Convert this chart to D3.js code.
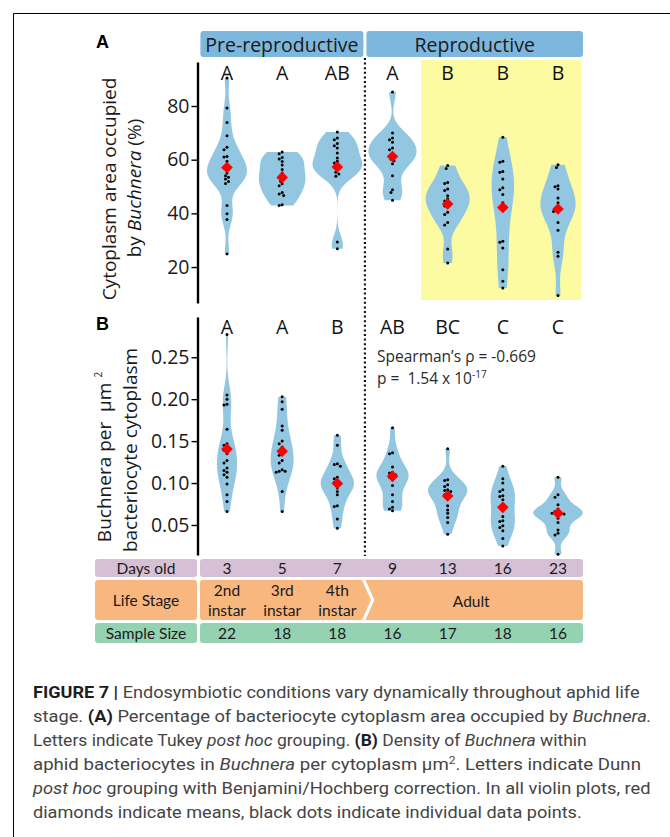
<!DOCTYPE html>
<html>
<head>
<meta charset="utf-8">
<script src="https://cdn.jsdelivr.net/npm/d3@7"></script>
<style>
	body { margin: 0; background: #fff; }
	svg { display: block; }
</style>
</head>
<body>
<script>
// ---- data ----
var days = ["3", "5", "7", "9", "13", "16", "23"];
var groupsA = ["A", "A", "AB", "A", "B", "B", "B"];
var groupsB = ["A", "A", "B", "AB", "BC", "C", "C"];
var sampleSize = ["22", "18", "18", "16", "17", "18", "16"];
var instars = [["2nd", "instar"], ["3rd", "instar"], ["4th", "instar"]];
var ticksA = [20, 40, 60, 80];
var ticksB = [0.05, 0.10, 0.15, 0.20, 0.25];

// (A) % cytoplasm occupied by Buchnera, one list per age
var areaPct = [
	[90.4, 79.3, 73.9, 68.9, 64.6, 63.7, 61.2, 61.0, 59.4, 57.3, 57.0, 56.3, 55.0, 54.0, 53.5, 52.8, 51.9, 51.1, 42.9, 39.9, 37.7, 24.9],
	[62.9, 62.2, 60.8, 60.3, 59.3, 58.0, 56.3, 55.0, 54.0, 53.0, 52.0, 51.0, 50.3, 47.8, 47.2, 46.7, 43.2, 42.9],
	[70.3, 68.1, 67.4, 66.0, 65.2, 64.4, 62.5, 60.6, 59.4, 58.8, 58.1, 57.3, 56.3, 55.3, 54.7, 53.8, 29.3, 26.8],
	[85.2, 69.9, 68.1, 67.4, 66.5, 64.4, 63.7, 62.5, 61.2, 60.2, 59.6, 58.5, 54.0, 48.8, 47.8, 44.9],
	[57.8, 56.7, 51.5, 51.1, 49.1, 48.5, 46.6, 45.4, 44.6, 43.6, 42.7, 40.4, 39.6, 36.6, 35.7, 26.7, 21.5],
	[68.4, 59.4, 59.0, 55.6, 55.3, 52.8, 49.5, 48.8, 47.0, 44.0, 42.6, 42.0, 29.6, 29.2, 27.1, 19.0, 14.7, 12.2],
	[58.1, 57.1, 50.3, 49.9, 49.1, 45.7, 44.0, 42.6, 41.6, 41.1, 40.7, 36.6, 33.7, 25.5, 24.0, 9.4]
];
var meansA = [57.1, 53.4, 57.3, 61.2, 43.5, 42.2, 41.6];

// (B) Buchnera per um2 of bacteriocyte cytoplasm
var density = [
	[0.277, 0.205, 0.200, 0.194, 0.193, 0.164, 0.147, 0.145, 0.141, 0.139, 0.135, 0.127, 0.124, 0.118, 0.115, 0.113, 0.110, 0.107, 0.099, 0.086, 0.078, 0.066],
	[0.203, 0.197, 0.188, 0.168, 0.163, 0.150, 0.147, 0.143, 0.136, 0.133, 0.127, 0.124, 0.116, 0.114, 0.114, 0.113, 0.090, 0.066],
	[0.157, 0.145, 0.123, 0.122, 0.120, 0.107, 0.105, 0.102, 0.101, 0.099, 0.098, 0.094, 0.090, 0.086, 0.073, 0.072, 0.057, 0.046],
	[0.166, 0.136, 0.135, 0.119, 0.113, 0.112, 0.110, 0.108, 0.107, 0.104, 0.097, 0.086, 0.078, 0.071, 0.069, 0.067],
	[0.141, 0.104, 0.103, 0.098, 0.096, 0.092, 0.091, 0.090, 0.088, 0.086, 0.084, 0.073, 0.068, 0.064, 0.059, 0.053, 0.039],
	[0.120, 0.105, 0.100, 0.092, 0.090, 0.085, 0.084, 0.080, 0.074, 0.068, 0.060, 0.055, 0.054, 0.049, 0.047, 0.043, 0.034, 0.025],
	[0.107, 0.086, 0.083, 0.074, 0.069, 0.066, 0.065, 0.064, 0.064, 0.063, 0.058, 0.053, 0.044, 0.040, 0.038, 0.015]
];
var meansB = [0.1405, 0.138, 0.0995, 0.108, 0.0845, 0.071, 0.064];

var captionLines = [
	[["FIGURE 7 |", "b"], [" Endosymbiotic conditions vary dynamically throughout aphid life", ""]],
	[["stage. ", ""], ["(A)", "b"], [" Percentage of bacteriocyte cytoplasm area occupied by ", ""], ["Buchnera.", "i"]],
	[["Letters indicate Tukey ", ""], ["post hoc", "i"], [" grouping. ", ""], ["(B)", "b"], [" Density of ", ""], ["Buchnera", "i"], [" within", ""]],
	[["aphid bacteriocytes in ", ""], ["Buchnera", "i"], [" per cytoplasm \u03bcm", ""], ["2", "sup"], [". Letters indicate Dunn", ""]],
	[["post hoc", "i"], [" grouping with Benjamini/Hochberg correction. In all violin plots, red", ""]],
	[["diamonds indicate means, black dots indicate individual data points.", ""]]
];
var captionWidths = [607, 619, 554, 608, 618, 549];

// ---- drawing ----
var w = 670;
var h = 837;
var chartFont = "'Open Sans', sans-serif";
var tableFont = "Lato, sans-serif";

var svg = d3.select("body")
			.append("svg")
			.attr("width", w)
			.attr("height", h);

// figure frame (left + top edges only are visible)
svg.append("line").attr("x1", 13.5).attr("x2", 13.5).attr("y1", 13.5).attr("y2", h)
	.attr("stroke", "#000").attr("stroke-width", 1);
svg.append("line").attr("x1", 13.5).attr("x2", w).attr("y1", 13.5).attr("y2", 13.5)
	.attr("stroke", "#000").attr("stroke-width", 1);

var xScale = d3.scalePoint()
				.domain(days)
				.range([227, 558]);
var step = xScale.step();

var yA = d3.scaleLinear().domain([6.6, 96.4]).range([303, 62]);
var yB = d3.scaleLinear().domain([0.0142, 0.298]).range([555, 317]);

var axisX = 197.5;
var split = (xScale("7") + xScale("9")) / 2;

// yellow highlight behind the last three adult groups
svg.append("rect")
	.attr("x", xScale("13") - step / 2 + 1)
	.attr("y", 60)
	.attr("width", xScale("23") + 23 - (xScale("13") - step / 2 + 1))
	.attr("height", 240)
	.attr("fill", "#fdfba2");

// header boxes
var headers = [
	{label: "Pre-reproductive", x0: xScale("3") - step / 2 + 1, x1: split - 1.5},
	{label: "Reproductive", x0: split + 1.5, x1: xScale("23") + 25}
];
svg.selectAll(".hdr")
	.data(headers)
	.enter()
	.append("rect")
	.attr("class", "hdr")
	.attr("x", function(d){ return d.x0; })
	.attr("y", 31)
	.attr("width", function(d){ return d.x1 - d.x0; })
	.attr("height", 26)
	.attr("rx", 3)
	.attr("fill", "#7eb7dd");
svg.selectAll(".hdrtxt")
	.data(headers)
	.enter()
	.append("text")
	.attr("class", "hdrtxt")
	.attr("x", function(d){ return (d.x0 + d.x1) / 2; })
	.attr("y", 51.5)
	.attr("text-anchor", "middle")
	.attr("font-family", chartFont)
	.attr("font-size", 19.5)
	.attr("fill", "#1a1a1a")
	.text(function(d){ return d.label; });

// dotted divider
svg.append("line")
	.attr("x1", split).attr("x2", split)
	.attr("y1", 58).attr("y2", 556)
	.attr("stroke", "#111")
	.attr("stroke-width", 2.2)
	.attr("stroke-dasharray", "2 2.6");

// kernel density (gaussian, nrd0 bandwidth), trimmed to data range
function kde(vals, n){
	var s = vals.slice().sort(d3.ascending);
	var sd = d3.deviation(s);
	var iqr = d3.quantile(s, 0.75) - d3.quantile(s, 0.25);
	var bw = 0.9 * Math.min(sd, iqr / 1.34) * Math.pow(s.length, -0.2);
	var lo = s[0], hi = s[s.length - 1];
	var out = [];
	for (var i = 0; i < n; i++){
		var v = lo + (hi - lo) * i / (n - 1);
		var dens = d3.sum(s, function(x){
			var z = (v - x) / bw;
			return Math.exp(-0.5 * z * z);
		}) / (s.length * bw * Math.sqrt(2 * Math.PI));
		out.push({v: v, d: dens});
	}
	return out;
}

// simple beeswarm in pixel space
function swarm(vals, yScale, cx, dia){
	var pts = vals.map(function(v){ return {v: v, y: yScale(v)}; })
				.sort(function(a, b){ return a.y - b.y; });
	var placed = [];
	pts.forEach(function(p){
		var k = 0;
		while (true){
			var off = (k % 2 === 0 ? 1 : -1) * Math.ceil(k / 2) * dia / 2;
			var ok = placed.every(function(q){
				var dx = q.x - (cx + off), dy = q.y - p.y;
				return dx * dx + dy * dy >= dia * dia;
			});
			if (ok){ p.x = cx + off; break; }
			k++;
		}
		placed.push(p);
	});
	return placed;
}

function panel(series, means, groups, yScale, ticks, fmt, letterY){
	var curves = series.map(function(s){ return kde(s, 120); });
	var maxD = d3.max(curves, function(c){ return d3.max(c, function(p){ return p.d; }); });
	var wScale = d3.scaleLinear().domain([0, maxD]).range([0, step * 0.45]);

	var g = svg.append("g");

	curves.forEach(function(c, i){
		var cx = xScale(days[i]);
		var area = d3.area()
					.y(function(p){ return yScale(p.v); })
					.x0(function(p){ return cx - wScale(p.d); })
					.x1(function(p){ return cx + wScale(p.d); })
					.curve(d3.curveBasis);
		g.append("path")
			.datum(c)
			.attr("d", area)
			.attr("fill", "#93c7e1");
	});

	series.forEach(function(s, i){
		g.selectAll(".pt" + i)
			.data(swarm(s, yScale, xScale(days[i]), 3.0))
			.enter()
			.append("circle")
			.attr("cx", function(d){ return d.x; })
			.attr("cy", function(d){ return d.y; })
			.attr("r", 1.5)
			.attr("fill", "#000");
	});

	g.selectAll(".mean")
		.data(means)
		.enter()
		.append("path")
		.attr("d", function(d, i){
			var cx = xScale(days[i]), cy = yScale(d), r = 5.8;
			return "M" + cx + "," + (cy - r) + "L" + (cx + r) + "," + cy + "L" + cx + "," + (cy + r) + "L" + (cx - r) + "," + cy + "Z";
		})
		.attr("fill", "#ff0000");

	g.selectAll(".grp")
		.data(groups)
		.enter()
		.append("text")
		.attr("x", function(d, i){ return xScale(days[i]); })
		.attr("y", letterY)
		.attr("text-anchor", "middle")
		.attr("font-family", chartFont)
		.attr("font-size", 19.5)
		.attr("fill", "#111")
		.text(function(d){ return d; });

	var yAxis = d3.axisLeft(yScale)
				.tickValues(ticks)
				.tickFormat(fmt)
				.tickSize(6)
				.tickSizeOuter(0)
				.tickPadding(2);
	var ax = svg.append("g")
		.attr("transform", "translate(" + axisX + ",0)")
		.call(yAxis);
	ax.select(".domain").attr("stroke-width", 2.4).attr("stroke", "#000");
	ax.selectAll(".tick line").attr("stroke-width", 1.4).attr("stroke", "#000");
	ax.selectAll(".tick text")
		.attr("font-family", chartFont)
		.attr("font-size", 19.5)
		.attr("fill", "#1a1a1a");
}

panel(areaPct, meansA, groupsA, yA, ticksA, d3.format("d"), 80);
panel(density, meansB, groupsB, yB, ticksB, d3.format(".2f"), 334);

// panel letters
svg.append("text").attr("x", 96).attr("y", 48).text("A")
	.attr("font-family", "'Liberation Sans', Arial, sans-serif").attr("font-weight", "bold").attr("font-size", 18);
svg.append("text").attr("x", 96).attr("y", 329.5).text("B")
	.attr("font-family", "'Liberation Sans', Arial, sans-serif").attr("font-weight", "bold").attr("font-size", 18);

// y axis titles
svg.append("text")
	.attr("transform", "translate(116,189) rotate(-90)")
	.attr("text-anchor", "middle")
	.attr("font-family", chartFont).attr("font-size", 19).attr("fill", "#1a1a1a")
	.text("Cytoplasm area occupied");
var t2 = svg.append("text")
	.attr("transform", "translate(141,188) rotate(-90)")
	.attr("text-anchor", "middle")
	.attr("font-family", chartFont).attr("font-size", 19).attr("fill", "#1a1a1a");
t2.append("tspan").text("by ");
t2.append("tspan").attr("font-style", "italic").text("Buchnera");
t2.append("tspan").text(" (%)");

var t3 = svg.append("text")
	.attr("transform", "translate(111,457) rotate(-90)")
	.attr("text-anchor", "middle")
	.attr("font-family", chartFont).attr("font-size", 19).attr("fill", "#1a1a1a");
t3.append("tspan").text("Buchnera per \u00a0\u03bcm");
t3.append("tspan").attr("dx", 5).attr("dy", -9).attr("font-size", 10).text("2");
svg.append("text")
	.attr("transform", "translate(137,450) rotate(-90)")
	.attr("text-anchor", "middle")
	.attr("font-family", chartFont).attr("font-size", 19).attr("fill", "#1a1a1a")
	.text("bacteriocyte cytoplasm");

// spearman annotation
svg.append("text")
	.attr("x", 377).attr("y", 362)
	.attr("font-family", chartFont).attr("font-size", 15.5).attr("fill", "#2a2a2a")
	.text("Spearman\u2019s \u03c1 = -0.669");
var sp = svg.append("text")
	.attr("x", 377).attr("y", 384)
	.attr("font-family", chartFont).attr("font-size", 15.5).attr("fill", "#2a2a2a");
sp.append("tspan").text("p = \u00a01.54 x 10");
sp.append("tspan").attr("dy", -6).attr("font-size", 10).text("-17");

// ---- table under the plots ----
var labelX0 = 95, labelX1 = 197, valX0 = 200, valX1 = xScale("23") + 25;
var rows = [
	{label: "Days old", y: 559, h: 18, fill: "#d6c0d6"},
	{label: "Life Stage", y: 580, h: 40, fill: "#f8b77e"},
	{label: "Sample Size", y: 623, h: 20, fill: "#94d2b2"}
];

svg.selectAll(".lab")
	.data(rows)
	.enter()
	.append("rect")
	.attr("x", labelX0)
	.attr("y", function(d){ return d.y; })
	.attr("width", labelX1 - labelX0)
	.attr("height", function(d){ return d.h; })
	.attr("rx", 3)
	.attr("fill", function(d){ return d.fill; });

svg.selectAll(".labtxt")
	.data(rows)
	.enter()
	.append("text")
	.attr("x", (labelX0 + labelX1) / 2)
	.attr("y", function(d){ return d.y + d.h / 2 + 5.5; })
	.attr("text-anchor", "middle")
	.attr("font-family", tableFont)
	.attr("font-size", 15.5)
	.attr("fill", "#1a1a1a")
	.text(function(d){ return d.label; });

// days + sample size value rows
svg.append("rect").attr("x", valX0).attr("y", rows[0].y).attr("width", valX1 - valX0).attr("height", rows[0].h)
	.attr("rx", 3).attr("fill", rows[0].fill);
svg.append("rect").attr("x", valX0).attr("y", rows[2].y).attr("width", valX1 - valX0).attr("height", rows[2].h)
	.attr("rx", 3).attr("fill", rows[2].fill);

svg.selectAll(".day")
	.data(days)
	.enter()
	.append("text")
	.attr("x", function(d){ return xScale(d); })
	.attr("y", 573.5)
	.attr("text-anchor", "middle")
	.attr("font-family", tableFont).attr("font-size", 15.5).attr("fill", "#1a1a1a")
	.text(function(d){ return d; });

svg.selectAll(".n")
	.data(sampleSize)
	.enter()
	.append("text")
	.attr("x", function(d, i){ return xScale(days[i]); })
	.attr("y", 639)
	.attr("text-anchor", "middle")
	.attr("font-family", tableFont).attr("font-size", 15.5).attr("fill", "#1a1a1a")
	.text(function(d){ return d; });

// life stage chevrons
var ly0 = rows[1].y, ly1 = rows[1].y + rows[1].h, lym = (ly0 + ly1) / 2;
svg.append("path")
	.attr("d", "M" + (valX0 + 3) + "," + ly0 + "L" + (split - 3) + "," + ly0 + "L" + (split + 6) + "," + lym +
		"L" + (split - 3) + "," + ly1 + "L" + (valX0 + 3) + "," + ly1 + "Q" + valX0 + "," + ly1 + " " + valX0 + "," + (ly1 - 3) +
		"L" + valX0 + "," + (ly0 + 3) + "Q" + valX0 + "," + ly0 + " " + (valX0 + 3) + "," + ly0 + "Z")
	.attr("fill", rows[1].fill);
svg.append("path")
	.attr("d", "M" + (split + 0.5) + "," + ly0 + "L" + (valX1 - 3) + "," + ly0 + "Q" + valX1 + "," + ly0 + " " + valX1 + "," + (ly0 + 3) +
		"L" + valX1 + "," + (ly1 - 3) + "Q" + valX1 + "," + ly1 + " " + (valX1 - 3) + "," + ly1 +
		"L" + (split + 0.5) + "," + ly1 + "L" + (split + 9.5) + "," + lym + "Z")
	.attr("fill", rows[1].fill);

instars.forEach(function(lines, i){
	var t = svg.append("text")
		.attr("x", xScale(days[i]))
		.attr("y", 595.5)
		.attr("text-anchor", "middle")
		.attr("font-family", tableFont).attr("font-size", 15.5).attr("fill", "#1a1a1a");
	t.append("tspan").attr("x", xScale(days[i])).text(lines[0]);
	t.append("tspan").attr("x", xScale(days[i])).attr("dy", 20).text(lines[1]);
});
svg.append("text")
	.attr("x", (xScale("13") + xScale("16")) / 2 - 4)
	.attr("y", 606.5)
	.attr("text-anchor", "middle")
	.attr("font-family", tableFont).attr("font-size", 15.5).attr("fill", "#1a1a1a")
	.text("Adult");

// ---- caption ----
captionLines.forEach(function(line, i){
	var t = svg.append("text")
		.attr("font-family", "'Liberation Sans Narrow', 'Roboto', sans-serif")
		.attr("font-size", 17)
		.attr("fill", "#444");
	var afterSup = false;
	line.forEach(function(seg){
		var ts = t.append("tspan").text(seg[0]);
		if (afterSup) { ts.attr("dy", 6); afterSup = false; }
		if (seg[1] === "b") ts.attr("font-weight", "bold").attr("fill", "#1e1e1e");
		if (seg[1] === "i") ts.attr("font-style", "italic");
		if (seg[1] === "sup") { ts.attr("font-size", 11).attr("dy", -6); afterSup = true; }
	});
	var len = t.node().getComputedTextLength();
	var sx = captionWidths[i] / len;
	t.attr("transform", "translate(33," + (698 + i * 24) + ") scale(" + sx + ",1)");
});
</script>
</body>
</html>
